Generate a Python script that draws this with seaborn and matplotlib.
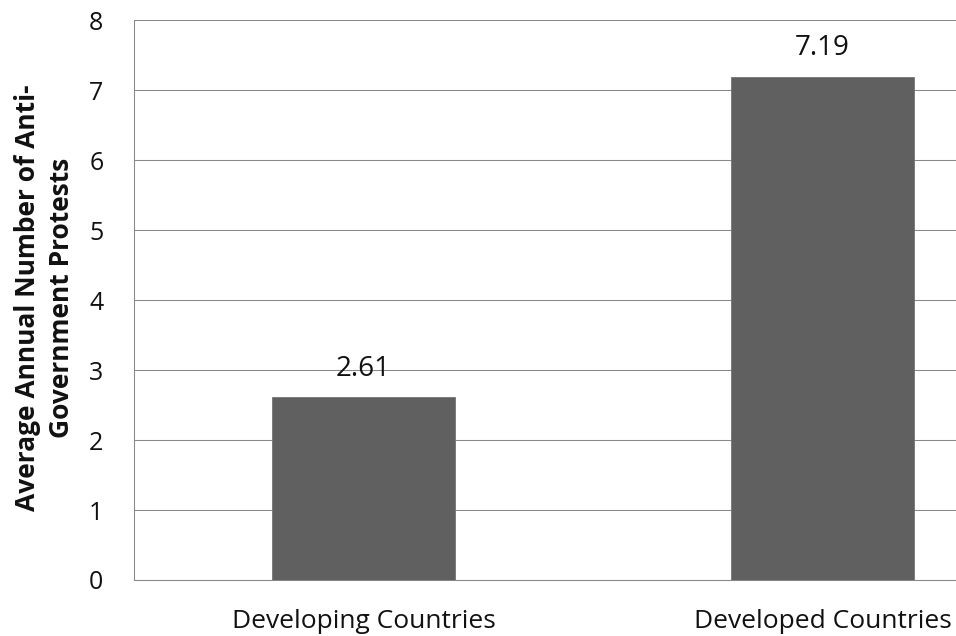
import numpy as np
import pandas as pd
import matplotlib
matplotlib.use("Agg")
import matplotlib.pyplot as plt
import seaborn as sns

# data
groups = ["Developing Countries", "Developed Countries"]
protests = [2.61, 7.19]
yticks = [0, 1, 2, 3, 4, 5, 6, 7, 8]

df = pd.DataFrame({"group": groups, "protests": protests})

sns.set_style("white")
plt.rcParams["font.family"] = ["Open Sans", "DejaVu Sans"]

grid_col = "#888888"
txt_col = "#111111"
fig = plt.figure(figsize=(9.56, 6.36), dpi=100)
# the plot area runs past the right edge of the picture, as in the original
ax = fig.add_axes([0.1402, 0.0881, 0.9602, 0.8797])

sns.barplot(data=df, x="group", y="protests", color="#606060", width=0.4,
            saturation=1, edgecolor="#747474", linewidth=0.6, ax=ax, zorder=3)

ax.set_xlim(-0.5, 1.5)
ax.set_ylim(0, 8)
ax.set_yticks(yticks)
ax.yaxis.grid(True, color=grid_col, linewidth=0.75, zorder=0)
ax.set_axisbelow(True)

for s in ["top", "right"]:
    ax.spines[s].set_visible(False)
for s in ["left", "bottom"]:
    ax.spines[s].set_color(grid_col)
    ax.spines[s].set_linewidth(0.75)

ax.tick_params(axis="y", length=8, width=0.75, color=grid_col, labelsize=18,
               labelcolor=txt_col, pad=14)
# x ticks sit on the category boundaries, labels in the middle
ax.set_xticks([-0.5, 0.5, 1.5])
ax.set_xticklabels([])
ax.set_xticks([0, 1], minor=True)
ax.set_xticklabels(groups, minor=True)
ax.tick_params(axis="x", which="major", length=8, width=0.75, color=grid_col)
ax.tick_params(axis="x", which="minor", length=0, labelsize=19,
               labelcolor=txt_col, pad=21)

for i, v in enumerate(protests):
    ax.text(i, v + 0.31, f"{v:.2f}", ha="center", va="baseline", fontsize=20,
            color=txt_col)

ax.set_xlabel("")
ax.set_ylabel("Average Annual Number of Anti-\nGovernment Protests",
              fontsize=19, fontweight="bold", color=txt_col, linespacing=1.3)
ax.yaxis.set_label_coords(-0.0648, 0.504)

fig.savefig("out.png", dpi=100)
